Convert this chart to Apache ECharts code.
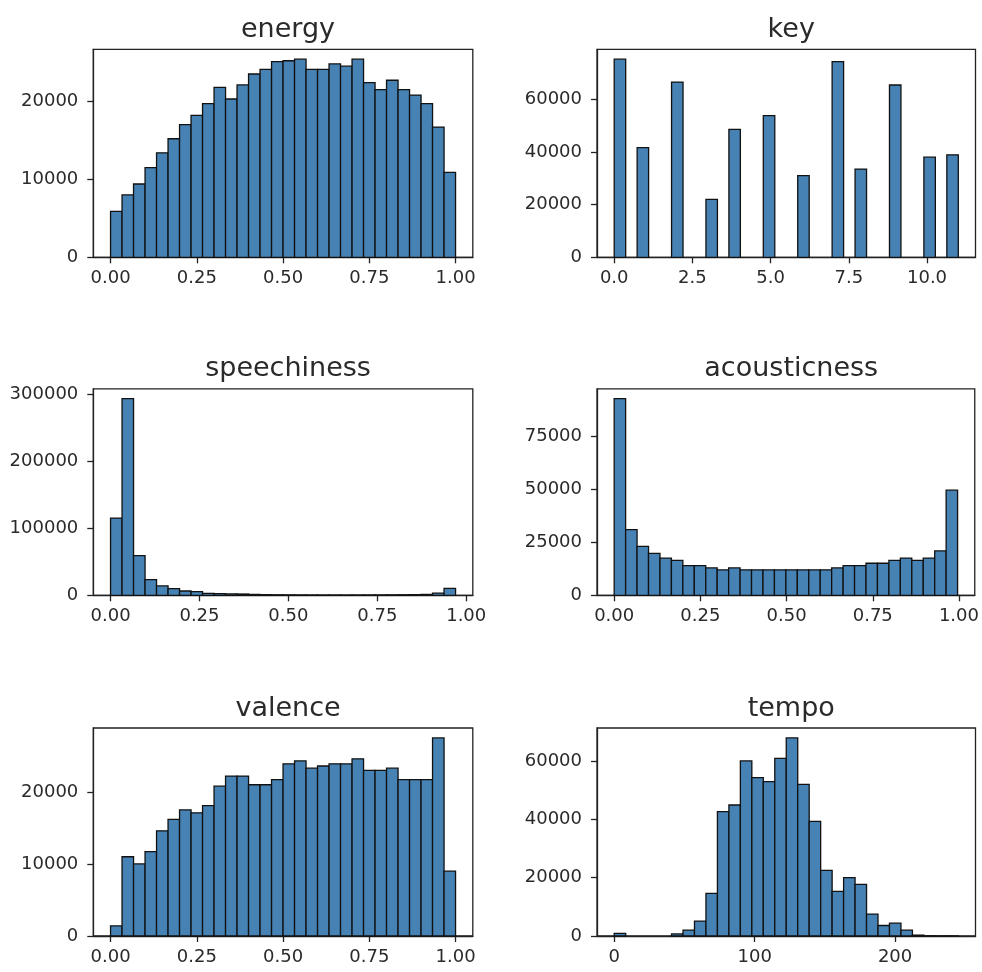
<!DOCTYPE html>
<html>
<head>
<meta charset="utf-8">
<script src="https://cdn.jsdelivr.net/npm/echarts@6/dist/echarts.min.js"></script>
<style>
  html, body { margin: 0; padding: 0; background: #fff; }
  #chart { width: 982px; height: 972px; }
</style>
</head>
<body>
<div id="chart"></div>
<script>
// Histogram counts (30 bins each) for the audio features
const energyCounts = [5900, 8000, 9400, 11500, 13400, 15200, 17000, 18200, 19700, 21800,
  20300, 22100, 23500, 24100, 25100, 25200, 25400, 24100, 24100, 24800,
  24500, 25400, 22400, 21500, 22700, 21500, 20800, 19700, 16700, 10900];
const keyValues = [0, 1, 2, 3, 4, 5, 6, 7, 8, 9, 10, 11];
const keyCounts = [75200, 41600, 66500, 22000, 48600, 53800, 31000, 74300, 33500, 65400, 38000, 38900];
const speechCounts = [115000, 293000, 59000, 23500, 13900, 9800, 6400, 5400, 2800, 2400,
  2100, 1900, 1300, 900, 700, 600, 500, 450, 400, 400,
  400, 450, 500, 550, 650, 800, 1000, 1300, 3200, 10400];
const acousticCounts = [92600, 30900, 23000, 19700, 17500, 16400, 14000, 14000, 12900, 12000,
  12900, 12000, 12000, 12000, 12000, 12000, 12000, 12000, 12000, 12900,
  14000, 14000, 15100, 15100, 16400, 17500, 16400, 17500, 20900, 49500];
const valenceCounts = [1400, 11000, 10000, 11700, 14600, 16200, 17500, 17100, 18100, 20800,
  22200, 22200, 21000, 21000, 21700, 23900, 24300, 23300, 23600, 23900,
  23900, 24600, 23000, 23000, 23300, 21700, 21700, 21700, 27500, 9000];
const tempoCounts = [900, 0, 0, 0, 0, 700, 2000, 5100, 14600, 42600,
  44900, 60000, 54300, 52900, 60900, 67900, 52000, 39300, 22500, 15300,
  20000, 17700, 7500, 3600, 4400, 2000, 300, 80, 20, 10];

// Data ranges of each feature
const energyRange = [0, 1];
const keyRange = [0, 11];
const speechRange = [0, 0.97];
const acousticRange = [0, 0.996];
const valenceRange = [0, 1];
const tempoRange = [0, 245];

// Tick values
const unitTicks = [0, 0.25, 0.5, 0.75, 1];
const keyXTicks = [0, 2.5, 5, 7.5, 10];
const tempoXTicks = [0, 100, 200];
const energyYTicks = [0, 10000, 20000];
const keyYTicks = [0, 20000, 40000, 60000];
const speechYTicks = [0, 100000, 200000, 300000];
const acousticYTicks = [0, 25000, 50000, 75000];
const valenceYTicks = [0, 10000, 20000];
const tempoYTicks = [0, 20000, 40000, 60000];

const NBINS = 30;

function binsFromCounts(range, counts) {
  const w = (range[1] - range[0]) / NBINS;
  const out = [];
  counts.forEach((c, i) => {
    if (c > 0) out.push([range[0] + i * w, range[0] + (i + 1) * w, c]);
  });
  return out;
}
function binsFromValues(range, values, counts) {
  const w = (range[1] - range[0]) / NBINS;
  const out = [];
  values.forEach((v, i) => {
    const b = Math.min(Math.floor((v - range[0]) / w + 1e-9), NBINS - 1);
    out.push([range[0] + b * w, range[0] + (b + 1) * w, counts[i]]);
  });
  return out;
}

const panels = [
  { title: 'energy', range: energyRange, bins: binsFromCounts(energyRange, energyCounts), xt: unitTicks, yt: energyYTicks, dec: 2 },
  { title: 'key', range: keyRange, bins: binsFromValues(keyRange, keyValues, keyCounts), xt: keyXTicks, yt: keyYTicks, dec: 1 },
  { title: 'speechiness', range: speechRange, bins: binsFromCounts(speechRange, speechCounts), xt: unitTicks, yt: speechYTicks, dec: 2 },
  { title: 'acousticness', range: acousticRange, bins: binsFromCounts(acousticRange, acousticCounts), xt: unitTicks, yt: acousticYTicks, dec: 2 },
  { title: 'valence', range: valenceRange, bins: binsFromCounts(valenceRange, valenceCounts), xt: unitTicks, yt: valenceYTicks, dec: 2 },
  { title: 'tempo', range: tempoRange, bins: binsFromCounts(tempoRange, tempoCounts), xt: tempoXTicks, yt: tempoYTicks, dec: 0 }
];

// Layout of the 3x2 panel grid (pixels)
const colLeft = [93.3, 597];
const colWidth = [379.5, 378.5];
const rowTop = [49.3, 388.8, 728];
const rowHeight = [208, 206.5, 208];

const FONT = 'DejaVu Sans';
const TEXT = '#2a2a2a';
const FRAME = '#222';

const option = {
  backgroundColor: '#fff',
  animation: false,
  title: [], grid: [], xAxis: [], yAxis: [], series: []
};

panels.forEach((p, i) => {
  const r = Math.floor(i / 2), c = i % 2;
  const span = p.range[1] - p.range[0];
  const ymaxData = Math.max(...p.bins.map(b => b[2]));
  option.grid.push({
    left: colLeft[c], top: rowTop[r], width: colWidth[c], height: rowHeight[r],
    show: true, borderColor: FRAME, borderWidth: 1.3, backgroundColor: 'transparent'
  });
  option.title.push({
    text: p.title,
    left: colLeft[c] + colWidth[c] / 2,
    top: rowTop[r] - 38,
    textAlign: 'center',
    textStyle: { fontFamily: FONT, fontSize: 27, fontWeight: 'normal', color: TEXT }
  });
  option.xAxis.push({
    type: 'value', gridIndex: i, position: 'bottom',
    min: p.range[0] - 0.05 * span, max: p.range[1] + 0.05 * span,
    axisLine: { show: true, onZero: false, lineStyle: { color: FRAME, width: 1.3 } },
    splitLine: { show: false },
    axisTick: { show: true, inside: false, length: 6, customValues: p.xt, lineStyle: { color: FRAME, width: 1.3 } },
    axisLabel: {
      customValues: p.xt, margin: 12,
      fontFamily: FONT, fontSize: 18, color: TEXT,
      formatter: v => Number(v).toFixed(p.dec)
    }
  });
  option.yAxis.push({
    type: 'value', gridIndex: i, position: 'left',
    min: 0, max: ymaxData * 1.05,
    axisLine: { show: true, onZero: false, lineStyle: { color: FRAME, width: 1.3 } },
    splitLine: { show: false },
    axisTick: { show: true, inside: false, length: 6, customValues: p.yt, lineStyle: { color: FRAME, width: 1.3 } },
    axisLabel: {
      customValues: p.yt, margin: 15,
      fontFamily: FONT, fontSize: 18, color: TEXT,
      formatter: v => String(v)
    }
  });
  option.series.push({
    type: 'custom', xAxisIndex: i, yAxisIndex: i,
    encode: { x: [0, 1], y: 2 },
    data: p.bins,
    renderItem: function (params, api) {
      const p0 = api.coord([api.value(0), 0]);
      const p1 = api.coord([api.value(1), api.value(2)]);
      return {
        type: 'rect',
        shape: { x: p0[0], y: p1[1], width: p1[0] - p0[0], height: p0[1] - p1[1] },
        style: { fill: '#4682b4', stroke: '#111', lineWidth: 1.3 }
      };
    }
  });
});

const chart = echarts.init(document.getElementById('chart'), null, { renderer: 'canvas' });
chart.setOption(option);
</script>
</body>
</html>
